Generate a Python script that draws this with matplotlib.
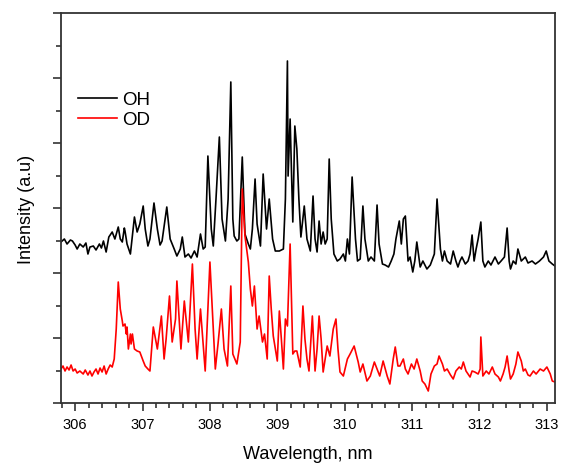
import matplotlib
matplotlib.use("Agg")
import matplotlib.pyplot as plt
from matplotlib.ticker import MultipleLocator, NullFormatter

plt.rcParams["font.family"] = ["Liberation Sans", "DejaVu Sans"]

# OH emission (wavelength nm, intensity a.u.)
oh_wl = [
    305.79, 305.84, 305.88, 305.93, 305.96, 306.00, 306.03, 306.07, 306.12, 306.16,
    306.19, 306.22, 306.27, 306.31, 306.36, 306.39, 306.42, 306.46, 306.50, 306.55,
    306.59, 306.64, 306.67, 306.70, 306.73, 306.74, 306.77, 306.82, 306.88, 306.92,
    306.96, 307.01, 307.04, 307.08, 307.11, 307.17, 307.22, 307.26, 307.29, 307.36,
    307.41, 307.47, 307.51, 307.56, 307.59, 307.63, 307.68, 307.72, 307.77, 307.81,
    307.86, 307.90, 307.93, 307.97, 308.02, 308.05, 308.09, 308.14, 308.18, 308.23,
    308.27, 308.31, 308.34, 308.36, 308.40, 308.43, 308.48, 308.52, 308.57, 308.60,
    308.63, 308.67, 308.70, 308.75, 308.79, 308.84, 308.88, 308.93, 308.97, 309.03,
    309.09, 309.12, 309.15, 309.16, 309.19, 309.23, 309.26, 309.29, 309.32, 309.35,
    309.40, 309.44, 309.49, 309.53, 309.56, 309.59, 309.62, 309.65, 309.68, 309.71,
    309.74, 309.77, 309.80, 309.84, 309.89, 309.93, 309.98, 310.01, 310.04, 310.07,
    310.11, 310.16, 310.19, 310.23, 310.27, 310.30, 310.35, 310.39, 310.44, 310.48,
    310.51, 310.56, 310.60, 310.65, 310.69, 310.73, 310.76, 310.81, 310.84, 310.87,
    310.90, 310.94, 310.97, 311.01, 311.04, 311.07, 311.12, 311.16, 311.22, 311.27,
    311.33, 311.37, 311.42, 311.45, 311.48, 311.52, 311.57, 311.61, 311.65, 311.68,
    311.71, 311.74, 311.79, 311.83, 311.86, 311.89, 311.92, 311.95, 311.98, 312.02,
    312.05, 312.08, 312.13, 312.17, 312.23, 312.28, 312.32, 312.37, 312.41, 312.44,
    312.46, 312.50, 312.54, 312.57, 312.62, 312.68, 312.72, 312.78, 312.83, 312.89,
    312.95, 312.99, 313.03, 313.08, 313.12,
]
oh_int = [
    1610, 1640, 1590, 1630, 1620, 1580, 1540, 1590, 1560, 1600,
    1490, 1560, 1570, 1530, 1590, 1550, 1620, 1510, 1660, 1710,
    1640, 1760, 1640, 1610, 1750, 1720, 1590, 1490, 1860, 1710,
    1790, 1970, 1740, 1570, 1640, 2000, 1740, 1580, 1620, 1960,
    1640, 1540, 1470, 1540, 1660, 1460, 1490, 1450, 1520, 1460,
    1690, 1540, 1560, 2470, 1740, 1570, 2040, 2660, 1840, 1620,
    2040, 3210, 1840, 1670, 1620, 1640, 2460, 1690, 1590, 1540,
    1740, 2240, 1790, 1570, 2290, 1740, 2040, 1640, 1520, 1520,
    1540, 2040, 3420, 2270, 2840, 1810, 2770, 2540, 2040, 1660,
    1970, 1640, 1520, 2070, 1640, 1510, 1820, 1590, 1710, 1590,
    1640, 2440, 1840, 1490, 1420, 1440, 1490, 1420, 1640, 1490,
    2260, 1640, 1420, 1440, 1970, 1640, 1420, 1460, 1420, 1980,
    1590, 1390, 1380, 1360, 1420, 1490, 1640, 1820, 1590, 1840,
    1870, 1420, 1460, 1310, 1420, 1610, 1360, 1420, 1340, 1380,
    1490, 2040, 1540, 1420, 1520, 1420, 1390, 1520, 1420, 1360,
    1420, 1460, 1390, 1420, 1490, 1680, 1420, 1540, 1640, 1810,
    1420, 1360, 1420, 1380, 1460, 1390, 1420, 1460, 1750, 1420,
    1340, 1420, 1390, 1540, 1420, 1460, 1400, 1420, 1390, 1420,
    1460, 1520, 1420, 1390, 1370,
]

# OD emission
od_wl = [
    305.79, 305.82, 305.85, 305.88, 305.91, 305.94, 305.97, 306.00, 306.03, 306.07,
    306.12, 306.15, 306.19, 306.22, 306.25, 306.28, 306.31, 306.34, 306.37, 306.40,
    306.43, 306.46, 306.49, 306.52, 306.55, 306.58, 306.61, 306.64, 306.67, 306.70,
    306.71, 306.74, 306.76, 306.77, 306.79, 306.82, 306.83, 306.85, 306.88, 306.92,
    306.96, 307.01, 307.04, 307.08, 307.11, 307.16, 307.22, 307.28, 307.32, 307.35,
    307.40, 307.44, 307.49, 307.51, 307.57, 307.62, 307.68, 307.74, 307.78, 307.81,
    307.86, 307.90, 307.93, 308.00, 308.05, 308.08, 308.12, 308.17, 308.21, 308.26,
    308.31, 308.34, 308.40, 308.45, 308.48, 308.52, 308.57, 308.60, 308.63, 308.66,
    308.70, 308.73, 308.78, 308.81, 308.85, 308.88, 308.91, 308.94, 309.00, 309.03,
    309.06, 309.09, 309.12, 309.15, 309.19, 309.23, 309.26, 309.29, 309.34, 309.38,
    309.41, 309.44, 309.47, 309.52, 309.56, 309.59, 309.62, 309.65, 309.68, 309.74,
    309.78, 309.83, 309.87, 309.90, 309.93, 309.98, 310.04, 310.08, 310.14, 310.20,
    310.23, 310.27, 310.33, 310.38, 310.44, 310.48, 310.52, 310.57, 310.63, 310.67,
    310.72, 310.75, 310.79, 310.82, 310.87, 310.90, 310.94, 310.99, 311.03, 311.07,
    311.12, 311.15, 311.19, 311.24, 311.28, 311.33, 311.37, 311.40, 311.45, 311.48,
    311.52, 311.57, 311.61, 311.65, 311.70, 311.73, 311.76, 311.80, 311.86, 311.89,
    311.93, 311.98, 312.01, 312.02, 312.05, 312.10, 312.14, 312.19, 312.23, 312.28,
    312.31, 312.35, 312.38, 312.41, 312.44, 312.46, 312.50, 312.54, 312.57, 312.62,
    312.65, 312.68, 312.72, 312.75, 312.80, 312.84, 312.90, 312.95, 313.00, 313.05,
    313.08, 313.12,
]
od_int = [
    340, 370, 320, 360, 330, 380, 320, 340, 300, 320,
    290, 330, 280, 320, 270, 310, 340, 290, 350, 310,
    370, 290, 340, 380, 360, 440, 740, 1210, 940, 820,
    770, 790, 690, 760, 540, 690, 590, 690, 540, 520,
    510, 420, 370, 340, 320, 760, 540, 870, 440, 640,
    1070, 610, 840, 1220, 540, 1020, 610, 1390, 740, 440,
    940, 590, 320, 1410, 740, 340, 590, 940, 540, 370,
    1170, 490, 390, 610, 2140, 1670, 1410, 1140, 970, 1170,
    740, 870, 610, 690, 440, 1270, 940, 670, 420, 920,
    640, 340, 840, 770, 1590, 490, 520, 520, 360, 970,
    640, 440, 320, 870, 320, 540, 870, 640, 310, 570,
    470, 740, 840, 540, 310, 270, 440, 490, 570, 410,
    310, 390, 220, 270, 410, 340, 270, 420, 270, 190,
    440, 560, 370, 370, 440, 340, 290, 390, 340, 440,
    320, 220, 190, 120, 290, 370, 390, 470, 390, 320,
    340, 280, 240, 320, 360, 340, 410, 320, 260, 320,
    310, 290, 340, 660, 270, 320, 290, 360, 290, 260,
    220, 290, 360, 470, 320, 240, 290, 390, 510, 420,
    320, 340, 280, 270, 320, 290, 340, 320, 360, 290,
    220, 210,
]

series_labels = ["OH", "OD"]
series_colors = ["black", "red"]

fig = plt.figure(figsize=(5.62, 4.64), dpi=100)
ax = fig.add_axes([0.1085, 0.1293, 0.879, 0.8405])

ax.plot(oh_wl, oh_int, color=series_colors[0], lw=1.2, label=series_labels[0])
ax.plot(od_wl, od_int, color=series_colors[1], lw=1.2, label=series_labels[1])

ax.set_xlim(305.79, 313.12)
ax.set_ylim(0, 3900)
ax.xaxis.set_major_locator(MultipleLocator(1))
ax.xaxis.set_minor_locator(MultipleLocator(0.2))
ax.yaxis.set_major_locator(MultipleLocator(650))
ax.yaxis.set_minor_locator(MultipleLocator(325))
ax.yaxis.set_major_formatter(NullFormatter())

for s in ax.spines.values():
    s.set_color("#333333")
    s.set_linewidth(1.3)
ax.tick_params(which="both", direction="out", color="#333333", width=1.2,
               top=False, right=False, labelsize=10.5, pad=4)
ax.tick_params(which="major", length=6)
ax.tick_params(which="minor", length=3.5)

ax.set_xlabel("Wavelength, nm", fontsize=13, labelpad=10)
ax.set_ylabel("Intensity (a.u)", fontsize=13, labelpad=9)

ax.legend(loc="upper left", bbox_to_anchor=(0.034, 0.80), frameon=False,
          fontsize=13.5, handlelength=2.1, handletextpad=0.25,
          labelspacing=0.15, borderpad=0, borderaxespad=0)

fig.savefig("out.png", dpi=100)
